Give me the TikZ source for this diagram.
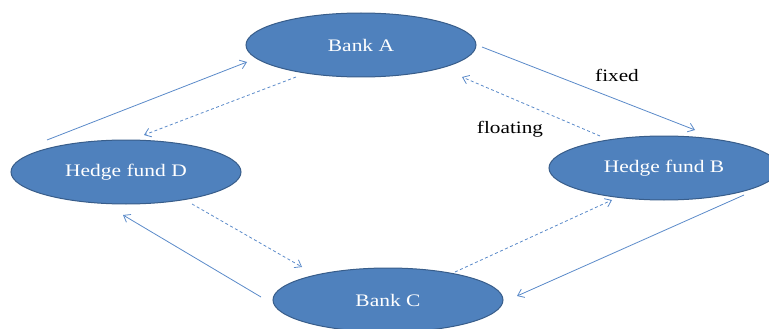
\documentclass[tikz,border=0pt]{standalone}
\usepackage{fontspec}
\setmainfont{Liberation Serif}
\newfontfamily\wideserif[FakeStretch=1.22]{Liberation Serif}
\usetikzlibrary{shapes.geometric,arrows.meta}
\definecolor{ofblue}{HTML}{4F81BD}
\definecolor{ofborder}{HTML}{385D8A}
\definecolor{arrblue}{HTML}{5A8AC9}
\tikzset{
  party/.style={ellipse, fill=ofblue, draw=ofborder, line width=1pt, inner sep=0pt,
    minimum width=230pt, minimum height=64pt, text=white,
    font=\wideserif\fontsize{17.6}{20}\selectfont},
  flow/.style={draw=arrblue, line width=0.8pt, -{Straight Barb[length=6pt,width=9pt]}},
  fixedleg/.style={flow},
  floatleg/.style={flow, dash pattern=on 3pt off 2.5pt},
  lbl/.style={font=\wideserif\fontsize{17.4}{20}\selectfont, text=black, inner sep=0pt}
}
\begin{document}
\begin{tikzpicture}[x=1pt,y=-1pt]
\useasboundingbox (0,0) rectangle (769,329);
\clip (0,0) rectangle (769,329);
\node[party] (A) at (361,45) {Bank A};
\node[party] (D) at (126,172) {Hedge fund D};
\node[party] (B) at (664,168) {Hedge fund B};
\node[party] (C) at (388,300) {Bank C};
% endpoints
\coordinate (DA1) at (47,140);  \coordinate (DA2) at (247,62);
\coordinate (AD1) at (296,77);  \coordinate (AD2) at (144,135);
\coordinate (AB1) at (482,47);  \coordinate (AB2) at (695,130);
\coordinate (BA1) at (600,136); \coordinate (BA2) at (462,77);
\coordinate (BC1) at (744,195); \coordinate (BC2) at (517,296);
\coordinate (CB1) at (455,272); \coordinate (CB2) at (612,200);
\coordinate (CD1) at (261,297); \coordinate (CD2) at (123,215);
\coordinate (DC1) at (192,204); \coordinate (DC2) at (302,267);
\draw[fixedleg] (DA1) -- (DA2);
\draw[floatleg] (AD1) -- (AD2);
\draw[fixedleg] (AB1) -- (AB2);
\draw[floatleg] (BA1) -- (BA2);
\draw[fixedleg] (BC1) -- (BC2);
\draw[floatleg] (CB1) -- (CB2);
\draw[fixedleg] (CD1) -- (CD2);
\draw[floatleg] (DC1) -- (DC2);
\node[lbl] (fx) at (617,75) {fixed};
\node[lbl] (fl) at (510,129) {floating};
\end{tikzpicture}
\end{document}
